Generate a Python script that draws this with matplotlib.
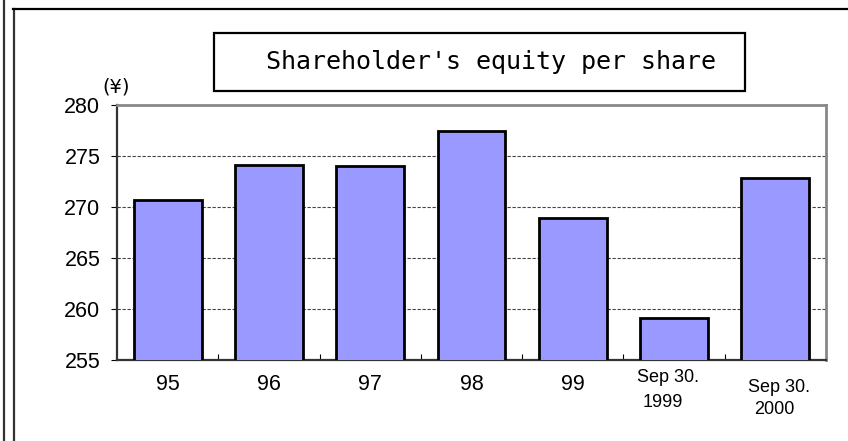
import matplotlib
matplotlib.use("Agg")
import matplotlib.pyplot as plt
from matplotlib.lines import Line2D
from matplotlib.patches import Rectangle
from matplotlib.transforms import blended_transform_factory

# data
categories = ["95", "96", "97", "98", "99", "Sep 30.\n1999", "Sep 30.\n2000"]
values = [270.7, 274.1, 274.0, 277.5, 268.9, 259.1, 272.8]
y_ticks = [255, 260, 265, 270, 275, 280]
title = "Shareholder's equity per share"

W, H = 848, 441
fig = plt.figure(figsize=(W / 100, H / 100), dpi=100)


def fx(px):
    return px / W


def fy(py):
    return 1 - py / H


# outer frame pieces
fig.add_artist(Line2D([fx(4), fx(4)], [0, 1], color="#333333", lw=1.6))
fig.add_artist(Line2D([fx(14), fx(14)], [0, fy(9)], color="#333333", lw=1.6))
fig.add_artist(Line2D([fx(13), 1], [fy(9), fy(9)], color="black", lw=1.6))

ax = fig.add_axes([fx(117), fy(360), fx(826) - fx(117), fy(105) - fy(360)])

x = list(range(len(categories)))
ax.bar(x, values, width=0.67, color="#9999FF", edgecolor="black", linewidth=2, zorder=3)
ax.set_xlim(-0.5, len(categories) - 0.5)
ax.set_ylim(255, 280)
ax.set_yticks(y_ticks)
ax.set_yticklabels([str(t) for t in y_ticks], fontsize=15.5, family="Liberation Sans")
ax.tick_params(axis="y", direction="out", length=4, pad=8)

# boundary ticks on x axis, labels drawn separately
ax.set_xticks([i + 0.5 for i in x[:-1]])
ax.set_xticklabels([])
ax.tick_params(axis="x", direction="in", length=4)

for t in y_ticks[1:-1]:
    ax.axhline(t, color="#444444", lw=0.8, ls=(0, (3, 1.5)), zorder=1)

for s in ["top", "right"]:
    ax.spines[s].set_color("#888888")
    ax.spines[s].set_linewidth(2)
for s in ["left", "bottom"]:
    ax.spines[s].set_color("#333333")
    ax.spines[s].set_linewidth(1.6)

tr = blended_transform_factory(ax.transData, ax.transAxes)
for i, lab in enumerate(categories):
    if "\n" in lab:
        first, second = lab.split("\n")
        if i == 5:
            (x1, y1), (x2, y2) = (-0.06, -0.067), (-0.11, -0.165)
        else:
            (x1, y1), (x2, y2) = (0.04, -0.106), (-0.01, -0.196)
        ax.text(i + x1, y1, first, transform=tr, ha="center", va="center",
                fontsize=13, family="Liberation Sans")
        ax.text(i + x2, y2, second, transform=tr, ha="center", va="center",
                fontsize=13, family="Liberation Sans")
    else:
        ax.text(i, -0.096, lab, transform=tr, ha="center", va="center",
                fontsize=15.5, family="Liberation Sans")

# yen unit label
fig.text(fx(116), fy(87), "(¥)", ha="center", va="center", fontsize=14,
         family="DejaVu Sans")

# title box
fig.add_artist(Rectangle((fx(214), fy(91)), fx(745) - fx(214), fy(33) - fy(91),
                         transform=fig.transFigure, fill=False, ec="black", lw=1.6))
fig.text(fx(491), fy(62), title, ha="center", va="center", fontsize=18,
         family="DejaVu Sans Mono")

fig.savefig("out.png", dpi=100)
